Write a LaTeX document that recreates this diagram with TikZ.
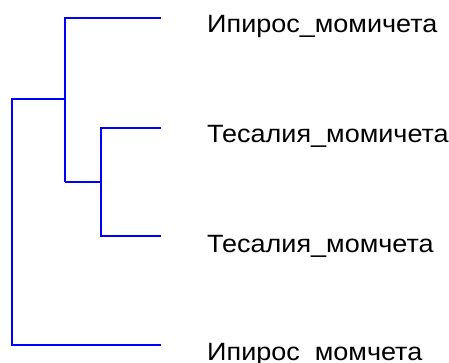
\documentclass[tikz,border=0pt]{standalone}
\usepackage{fontspec}
\setmainfont{Liberation Sans}
\begin{document}
\begin{tikzpicture}[x=1pt,y=-1pt,
  branch/.style={draw={rgb,255:red,0;green,0;blue,255}, line width=2.5pt, line cap=butt, line join=miter},
  leaflabel/.style={anchor=base west, inner sep=0pt, font=\fontsize{25}{30}\selectfont, xscale=1.08}]
\useasboundingbox (0,0) rectangle (449,363);
\path[clip] (0,0) rectangle (449,363);
% tree coordinates
\coordinate (l1) at (161,18);
\coordinate (l2) at (161,128);
\coordinate (l3) at (161,236);
\coordinate (l4) at (161,345);
\coordinate (n23) at (101,182);
\coordinate (n123) at (65,99);
\coordinate (root) at (12,99);
% connectors
\draw[branch] (l2) -- (l2 -| n23) -- (l3 -| n23) -- (l3);
\draw[branch] (n23) -- (n23 -| n123);
\draw[branch] (l1) -- (l1 -| n123) -- (n23 -| n123);
\draw[branch] (n123) -- (root) -- (l4 -| root) -- (l4);
% labels
\node[leaflabel] (t1) at (207,33) {Ипирос\_момичета};
\node[leaflabel] (t2) at (207,143) {Тесалия\_момичета};
\node[leaflabel] (t3) at (207,252) {Тесалия\_момчета};
\node[leaflabel] (t4) at (207,360) {Ипирос\_момчета};
\end{tikzpicture}
\end{document}
